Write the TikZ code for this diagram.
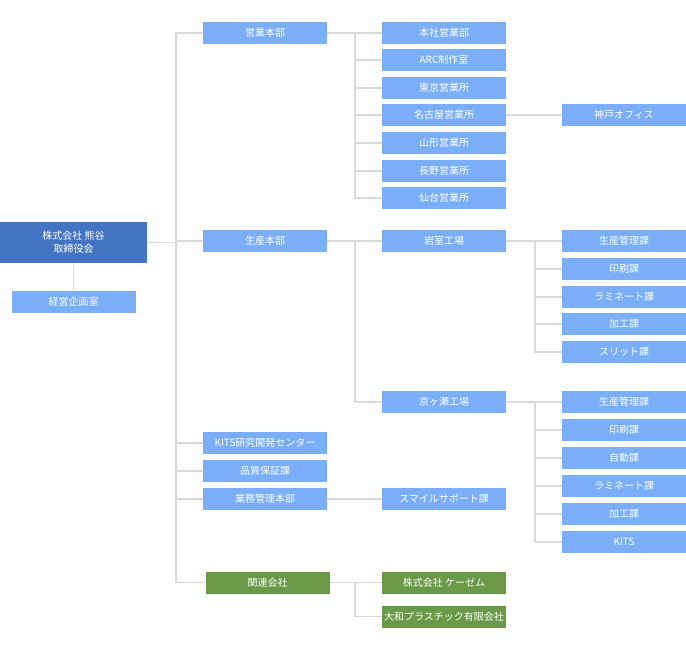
\documentclass[tikz,border=0pt]{standalone}
\usepackage{fontspec}
\setmainfont{Noto Sans CJK JP}
\definecolor{dblue}{HTML}{4475C4}
\definecolor{lblue}{HTML}{7BAEF8}
\definecolor{lgreen}{HTML}{6A9A48}
\definecolor{lgray}{HTML}{D9D9D9}
\tikzset{
  unit/.style={fill=lblue, text=white, minimum width=93pt, minimum height=16.5pt, inner sep=0pt, font=\fontsize{7.5pt}{9pt}\selectfont},
  group/.style={unit, fill=lgreen},
  link/.style={draw=lgray, line width=0.9pt}
}
\begin{document}
\begin{tikzpicture}[x=0.75pt, y=-0.75pt]
\useasboundingbox (0,0) rectangle (686,650);
% top and staff
\node[unit, fill=dblue, minimum width=110pt, minimum height=30.75pt, align=center, font=\fontsize{7.5pt}{10pt}\selectfont] (board) at (73.5,242.5) {株式会社 熊谷\\取締役会};
\node[unit] (plan) at (73.5,301.5) {経営企画室};
% divisions
\node[unit] (sales) at (265,33) {営業本部};
\node[unit] (prod) at (265,241) {生産本部};
\node[unit] (kits) at (265,443) {KITS研究開発センター};
\node[unit] (qa) at (265,471) {品質保証課};
\node[unit] (admin) at (265,499) {業務管理本部};
\node[group] (rel) at (267.5,582.5) {関連会社};
% sales offices
\foreach \n/\y/\t in {s1/33/本社営業部, s2/60/ARC制作室, s3/88/東京営業所, s4/115/名古屋営業所, s5/143/山形営業所, s6/171/長野営業所, s7/198/仙台営業所}
  \node[unit] (\n) at (444,\y) {\t};
\node[unit] (kobe) at (624,115) {神戸オフィス};
% plants
\node[unit] (iwa) at (444,241) {岩室工場};
\node[unit] (kyo) at (444,402) {京ヶ瀬工場};
\foreach \n/\y/\t in {a1/241/生産管理課, a2/269/印刷課, a3/297/ラミネート課, a4/324/加工課, a5/352/スリット課}
  \node[unit] (\n) at (624,\y) {\t};
\foreach \n/\y/\t in {b1/402/生産管理課, b2/430/印刷課, b3/458/自動課, b4/486/ラミネート課, b5/514/加工課, b6/542/KITS}
  \node[unit] (\n) at (624,\y) {\t};
\node[unit] (smile) at (444,499) {スマイルサポート課};
% group companies
\node[group] (kzm) at (444,582.5) {株式会社 ケーゼム};
\node[group] (yamato) at (444,616.5) {大和プラスチック有限会社};

% connectors
\coordinate (trunk) at (176,242.5);
\draw[link] (board) -- (plan);
\draw[link] (board.east) -- (trunk);
\draw[link] (176,33) -- (176,582.5);
\foreach \n in {sales, prod, kits, qa, admin, rel}
  \draw[link] (trunk) |- (\n.west);
\coordinate (js) at (355,33);
\draw[link] (sales.east) -- (s1.west);
\foreach \n in {s2, s3, s4, s5, s6, s7}
  \draw[link] (js) |- (\n.west);
\draw[link] (s4.east) -- (kobe.west);
\coordinate (jp) at (355,241);
\draw[link] (prod.east) -- (iwa.west);
\draw[link] (jp) |- (kyo.west);
\coordinate (ja) at (535,241);
\draw[link] (iwa.east) -- (a1.west);
\foreach \n in {a2, a3, a4, a5}
  \draw[link] (ja) |- (\n.west);
\coordinate (jb) at (535,402);
\draw[link] (kyo.east) -- (b1.west);
\foreach \n in {b2, b3, b4, b5, b6}
  \draw[link] (jb) |- (\n.west);
\draw[link] (admin.east) -- (smile.west);
\coordinate (jr) at (355,582.5);
\draw[link] (rel.east) -- (kzm.west);
\draw[link] (jr) |- (yamato.west);
\end{tikzpicture}
\end{document}
